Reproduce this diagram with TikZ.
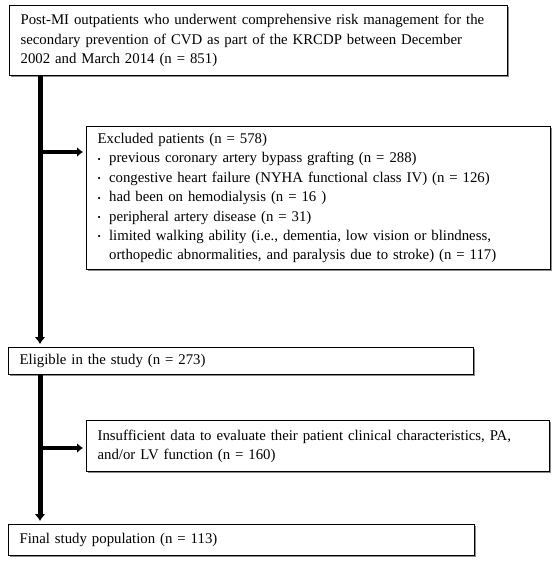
\documentclass[tikz,border=0pt]{standalone}
\usepackage{fontspec}
\setmainfont{Liberation Serif}
\usetikzlibrary{arrows.meta,shadows}
\newcommand{\bul}{\makebox[11.5pt][l]{\raisebox{0.5pt}{\fontsize{9}{9}\selectfont\textbullet}}}
\begin{document}
\begin{tikzpicture}[x=1pt,y=-1pt,
  box/.style={draw=black, line width=1.2pt, fill=white, anchor=north west,
    inner xsep=11pt, inner ysep=0pt, align=left,
    font=\fontsize{14.8}{19.4}\selectfont,
    drop shadow={shadow xshift=1.2pt, shadow yshift=-1.2pt, fill=black!45, opacity=1}},
  trunk/.style={line width=5pt, -{Latex[length=7pt,width=11pt]}, shorten >=3pt},
  branch/.style={line width=4pt, -{Latex[length=6pt,width=10pt]}, shorten >=3pt}]
\useasboundingbox (0,0) rectangle (558,561);
\node[box, text width=476pt, minimum height=70pt] (b1) at (9,5)
  {Post-MI outpatients who underwent comprehensive risk management for the\\
   secondary prevention of CVD as part of the KRCDP between December\\
   2002 and March 2014 (n = 851)};
\node[box, text width=442pt, minimum height=143pt] (exc) at (86,126)
  {Excluded patients (n = 578)\\
   \bul previous coronary artery bypass grafting (n = 288)\\
   \bul congestive heart failure (NYHA functional class IV) (n = 126)\\
   \bul had been on hemodialysis (n = 16 )\\
   \bul peripheral artery disease (n = 31)\\
   \bul limited walking ability (i.e., dementia, low vision or blindness,\\
   \phantom{\bul}orthopedic abnormalities, and paralysis due to stroke) (n = 117)};
\node[box, text width=443pt, minimum height=27pt] (elig) at (8,347)
  {Eligible in the study (n = 273)};
\node[box, text width=441pt, minimum height=51pt] (ins) at (86,420)
  {Insufficient data to evaluate their patient clinical characteristics, PA,\\
   and/or LV function (n = 160)};
\node[box, text width=444pt, minimum height=31pt] (fin) at (8,524)
  {Final study population (n = 113)};
\coordinate (t1) at (40,0);
\coordinate (j1) at (40,152);
\coordinate (j2) at (40,448);
\draw[trunk] (b1.south -| t1) -- (elig.north -| t1);
\draw[branch] (j1) -- (j1 -| exc.west);
\draw[trunk] (elig.south -| t1) -- (fin.north -| t1);
\draw[branch] (j2) -- (j2 -| ins.west);
\end{tikzpicture}
\end{document}
